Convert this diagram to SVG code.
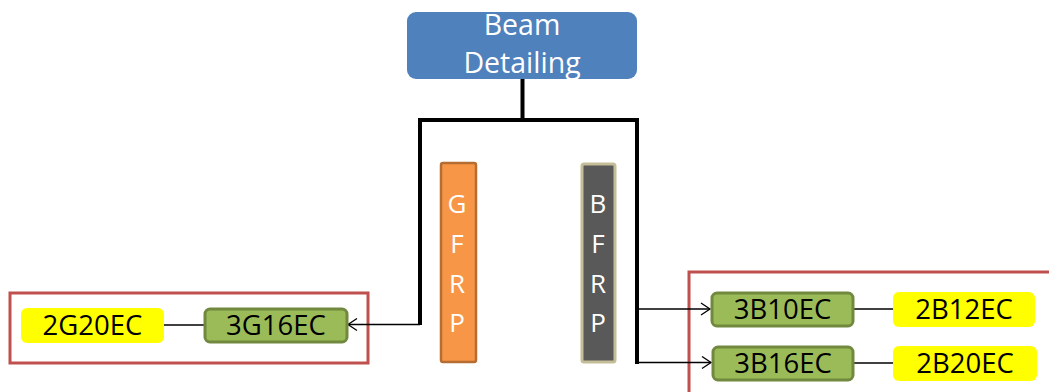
<svg xmlns="http://www.w3.org/2000/svg" width="1049" height="392" viewBox="0 0 1049 392">
<defs>
<style>
text{font-family:"Open Sans","Liberation Sans",sans-serif;text-anchor:middle}
.w{fill:#ffffff}
.k{fill:#000000;font-size:27.5px}
.green{fill:#9bbb59;stroke:#71893f;stroke-width:3}
.yellow{fill:#ffff00}
.red{fill:none;stroke:#c0504d;stroke-width:3}
.thick{fill:none;stroke:#000;stroke-width:4}
.thin{fill:none;stroke:#000;stroke-width:1.3}
</style>
<marker id="arr" markerUnits="userSpaceOnUse" markerWidth="12" markerHeight="14" refX="10" refY="7" orient="auto">
<path d="M1,1 L10,7 L1,13" fill="none" stroke="#000" stroke-width="1.3"/>
</marker>
</defs>
<rect class="red" x="10" y="293" width="358" height="70"/>
<rect class="red" x="689" y="272" width="380" height="140"/>
<g id="connectors">
<path class="thick" d="M522.5,79 V120 M420,120 H637 M420,118 V325 M637,118 V364"/>
<path class="thin" d="M420,324.5 H348" marker-end="url(#arr)"/>
<path class="thin" d="M637,309 H710" marker-end="url(#arr)"/>
<path class="thin" d="M637,362.5 H711" marker-end="url(#arr)"/>
<path class="thin" d="M164,325 H204"/>
<path class="thin" d="M853,309 H893"/>
<path class="thin" d="M853,363 H893"/>
</g>
<g id="beam">
<rect x="407" y="12" width="230" height="67" rx="9" fill="#4f81bd"/>
<text class="w" x="522" y="35" font-size="28.5">Beam</text>
<text class="w" x="522" y="73" font-size="28.5">Detailing</text>
</g>
<g id="gfrp">
<rect x="441" y="163" width="35" height="199" rx="2" fill="#f79646" stroke="#b66d31" stroke-width="2.5"/>
<text class="w" x="457" y="213" font-size="26">G</text>
<text class="w" x="457" y="253" font-size="26">F</text>
<text class="w" x="457" y="293" font-size="26">R</text>
<text class="w" x="457" y="332" font-size="26">P</text>
</g>
<g id="bfrp">
<rect x="582" y="164" width="33" height="198" rx="2" fill="#595959" stroke="#c4bd97" stroke-width="3"/>
<text class="w" x="598" y="213" font-size="26">B</text>
<text class="w" x="598" y="253" font-size="26">F</text>
<text class="w" x="598" y="293" font-size="26">R</text>
<text class="w" x="598" y="332" font-size="26">P</text>
</g>
<g id="n2G20EC">
<rect class="yellow" x="21" y="308" width="143" height="35" rx="6"/>
<text class="k" x="92.5" y="335">2G20EC</text>
</g>
<g id="n3G16EC">
<rect class="green" x="205" y="309" width="142" height="33" rx="5"/>
<text class="k" x="276" y="335">3G16EC</text>
</g>
<g id="n3B10EC">
<rect class="green" x="712" y="293" width="141" height="33" rx="5"/>
<text class="k" x="782.5" y="319">3B10EC</text>
</g>
<g id="n2B12EC">
<rect class="yellow" x="893" y="292" width="142" height="35" rx="6"/>
<text class="k" x="964" y="319">2B12EC</text>
</g>
<g id="n3B16EC">
<rect class="green" x="713" y="347" width="140" height="33" rx="5"/>
<text class="k" x="783" y="373">3B16EC</text>
</g>
<g id="n2B20EC">
<rect class="yellow" x="893" y="346" width="144" height="35" rx="6"/>
<text class="k" x="965" y="373">2B20EC</text>
</g>
</svg>
